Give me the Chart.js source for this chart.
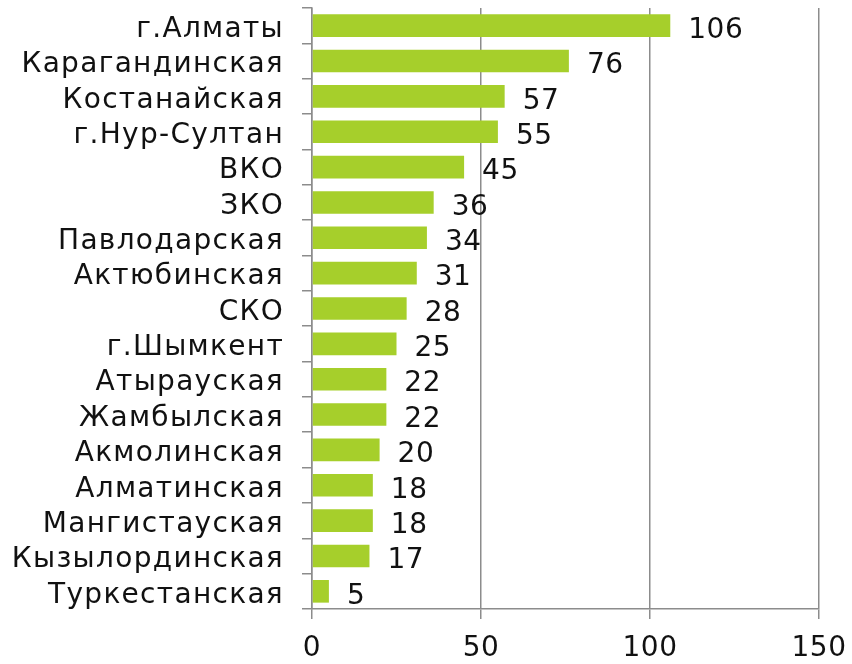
<!DOCTYPE html>
<html>
<head>
<meta charset="utf-8">
<script src="https://cdn.jsdelivr.net/npm/chart.js@4/dist/chart.umd.min.js"></script>
<style>
  html, body { margin: 0; padding: 0; background: #fff; }
  #wrap { width: 852px; height: 664px; }
</style>
</head>
<body>
<div id="wrap"><canvas id="regionChart"></canvas></div>
<script>
const regions = ['г.Алматы', 'Карагандинская', 'Костанайская', 'г.Нур-Султан', 'ВКО', 'ЗКО',
    'Павлодарская', 'Актюбинская', 'СКО', 'г.Шымкент', 'Атырауская', 'Жамбылская',
    'Акмолинская', 'Алматинская', 'Мангистауская', 'Кызылординская', 'Туркестанская'];
const counts = [106, 76, 57, 55, 45, 36, 34, 31, 28, 25, 22, 22, 20, 18, 18, 17, 5];
const xTicks = [0, 50, 100, 150];

const FONT = "'DejaVu Sans', sans-serif";
const gridGray = '#8c8c8c';

// wide letter spacing for the region names (y labels drawn before datasets),
// value labels and x ticks are drawn afterwards with less
const spacing = {
    id: 'spacing',
    beforeDraw(chart) { chart.ctx.letterSpacing = '1.3px'; },
    afterDatasetsDraw(chart) { chart.ctx.letterSpacing = '0.5px'; },
    afterDraw(chart) { chart.ctx.letterSpacing = '0px'; }
};

// value labels drawn to the right of each bar
const valueLabels = {
    id: 'valueLabels',
    afterDatasetsDraw(chart) {
        const ctx = chart.ctx;
        const meta = chart.getDatasetMeta(0);
        ctx.save();
        ctx.font = '28px ' + FONT;
        ctx.fillStyle = '#111';
        ctx.textAlign = 'left';
        ctx.textBaseline = 'middle';
        meta.data.forEach((bar, i) => {
            ctx.fillText(String(counts[i]), bar.x + 18, bar.y + 5);
        });
        ctx.restore();
    }
};

new Chart(document.getElementById('regionChart'), {
    type: 'bar',
    data: {
        labels: regions,
        datasets: [{
            data: counts,
            backgroundColor: '#a6cf2b',
            borderWidth: 0,
            categoryPercentage: 1,
            barPercentage: 0.64
        }]
    },
    options: {
        indexAxis: 'y',
        responsive: true,
        maintainAspectRatio: false,
        animation: false,
        layout: { padding: { top: 8, right: 33, left: 0, bottom: 0 } },
        plugins: {
            legend: { display: false },
            tooltip: { enabled: false }
        },
        scales: {
            x: {
                min: 0,
                max: 150,
                afterBuildTicks: axis => { axis.ticks = xTicks.map(v => ({ value: v })); },
                afterFit: axis => { axis.height = 55; axis.paddingLeft = 0; axis.paddingRight = 0; },
                grid: { color: gridGray, lineWidth: 1.5, tickLength: 10 },
                border: { color: gridGray, width: 1.5 },
                ticks: {
                    color: '#111',
                    padding: 13,
                    z: 1,
                    font: { family: FONT, size: 28 }
                }
            },
            y: {
                afterFit: axis => { axis.width = 312; axis.paddingTop = 0; axis.paddingBottom = 0; },
                grid: { drawOnChartArea: false, color: gridGray, lineWidth: 1.5, tickLength: 10, offset: true },
                border: { color: gridGray, width: 1.5 },
                ticks: {
                    color: '#111',
                    padding: 18,
                    labelOffset: 4,
                    autoSkip: false,
                    font: { family: FONT, size: 28 }
                }
            }
        }
    },
    plugins: [spacing, valueLabels]
});
</script>
</body>
</html>
